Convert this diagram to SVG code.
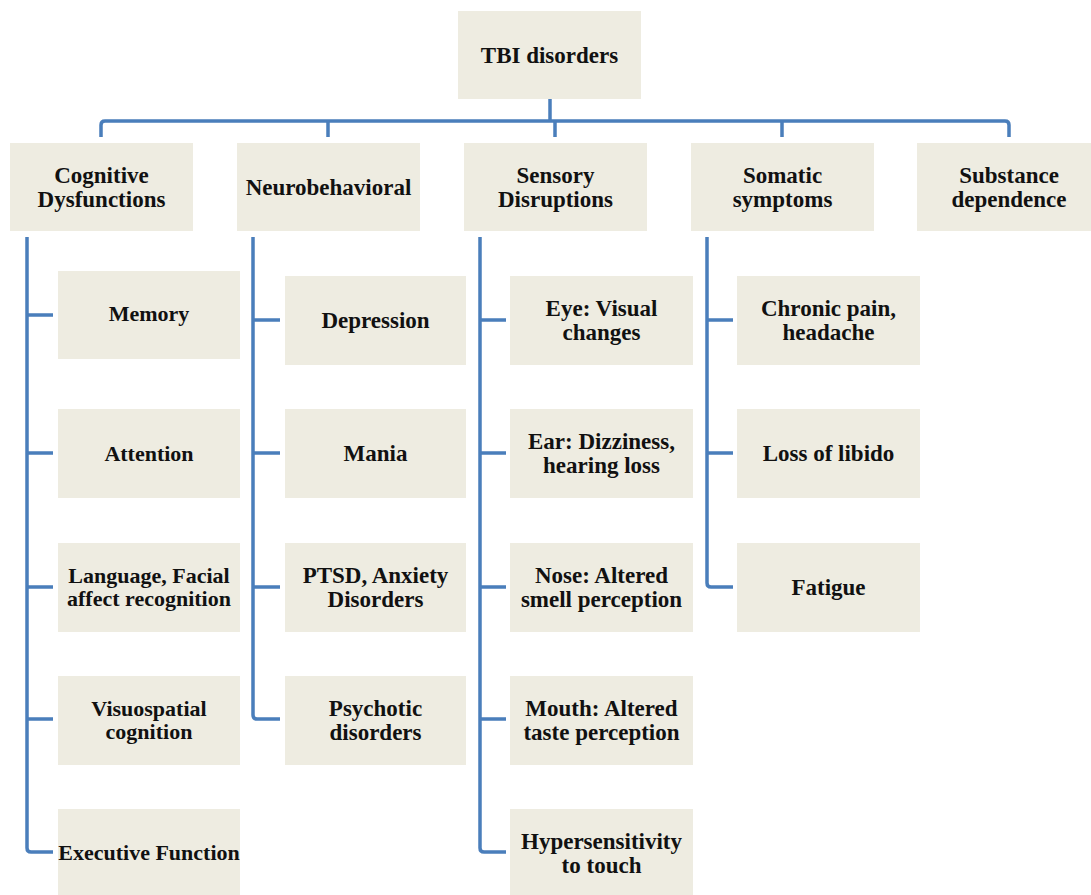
<svg xmlns="http://www.w3.org/2000/svg" width="1091" height="895" viewBox="0 0 1091 895">
<style>
.box{fill:#EEECE1;}
.t{font-family:"Liberation Serif","Times New Roman",serif;font-weight:bold;font-size:23px;fill:#111;text-anchor:middle;}
.s{font-size:22px;}
.c{fill:none;stroke:#4A7EBB;stroke-width:3.5;stroke-linejoin:round;}
</style>
<rect width="1091" height="895" fill="#fff"/>
<g id="connectors">
<path class="c" d="M550,99 V121"/>
<path class="c" d="M101,137 V125 Q101,121 105,121 H1005 Q1009,121 1009,125 V137"/>
<path class="c" d="M328,121 V137 M555,121 V137 M782,121 V137"/>
<path class="c" d="M27,237 V848 Q27,852 31,852 H53 M27,315 H53 M27,453 H53 M27,587 H53 M27,719 H53"/>
<path class="c" d="M253,237 V715 Q253,719 257,719 H280 M253,320 H280 M253,453 H280 M253,587 H280"/>
<path class="c" d="M480,237 V848 Q480,852 484,852 H506 M480,320 H506 M480,453 H506 M480,587 H506 M480,719 H506"/>
<path class="c" d="M707,237 V583 Q707,587 711,587 H733 M707,320 H733 M707,453 H733"/>
</g>
<g id="tbi"><rect class="box" x="458" y="11" width="183" height="88"/><text class="t" x="549.5" y="63">TBI disorders</text></g>
<g id="cognitive"><rect class="box" x="10" y="143" width="183" height="88"/><text class="t" x="101.5" y="183">Cognitive</text><text class="t" x="101.5" y="207">Dysfunctions</text></g>
<g id="neuro"><rect class="box" x="237" y="143" width="183" height="88"/><text class="t" x="328.5" y="195">Neurobehavioral</text></g>
<g id="sensory"><rect class="box" x="464" y="143" width="183" height="88"/><text class="t" x="555.5" y="183">Sensory</text><text class="t" x="555.5" y="207">Disruptions</text></g>
<g id="somatic"><rect class="box" x="691" y="143" width="183" height="88"/><text class="t" x="782.5" y="183">Somatic</text><text class="t" x="782.5" y="207">symptoms</text></g>
<g id="substance"><rect class="box" x="917" y="143" width="184" height="88"/><text class="t" x="1009" y="183">Substance</text><text class="t" x="1009" y="207">dependence</text></g>

<g id="memory"><rect class="box" x="58" y="271" width="182" height="88"/><text class="t s" x="149" y="321">Memory</text></g>
<g id="attention"><rect class="box" x="58" y="409" width="182" height="89"/><text class="t s" x="149" y="461">Attention</text></g>
<g id="language"><rect class="box" x="58" y="543" width="182" height="89"/><text class="t s" x="149" y="583">Language, Facial</text><text class="t s" x="149" y="606">affect recognition</text></g>
<g id="visuospatial"><rect class="box" x="58" y="676" width="182" height="89"/><text class="t s" x="149" y="716">Visuospatial</text><text class="t s" x="149" y="739">cognition</text></g>
<g id="executive"><rect class="box" x="58" y="809" width="182" height="90"/><text class="t s" x="149" y="860">Executive Function</text></g>

<g id="depression"><rect class="box" x="285" y="276" width="181" height="89"/><text class="t" x="375.5" y="328">Depression</text></g>
<g id="mania"><rect class="box" x="285" y="409" width="181" height="89"/><text class="t" x="375.5" y="461">Mania</text></g>
<g id="ptsd"><rect class="box" x="285" y="543" width="181" height="89"/><text class="t" x="375.5" y="583">PTSD, Anxiety</text><text class="t" x="375.5" y="607">Disorders</text></g>
<g id="psychotic"><rect class="box" x="285" y="676" width="181" height="89"/><text class="t" x="375.5" y="716">Psychotic</text><text class="t" x="375.5" y="740">disorders</text></g>

<g id="eye"><rect class="box" x="510" y="276" width="183" height="89"/><text class="t" x="601.5" y="316">Eye: Visual</text><text class="t" x="601.5" y="340">changes</text></g>
<g id="ear"><rect class="box" x="510" y="409" width="183" height="89"/><text class="t" x="601.5" y="449">Ear: Dizziness,</text><text class="t" x="601.5" y="473">hearing loss</text></g>
<g id="nose"><rect class="box" x="510" y="543" width="183" height="89"/><text class="t" x="601.5" y="583">Nose: Altered</text><text class="t" x="601.5" y="607">smell perception</text></g>
<g id="mouth"><rect class="box" x="510" y="676" width="183" height="89"/><text class="t" x="601.5" y="716">Mouth: Altered</text><text class="t" x="601.5" y="740">taste perception</text></g>
<g id="hyper"><rect class="box" x="510" y="809" width="183" height="90"/><text class="t" x="601.5" y="849">Hypersensitivity</text><text class="t" x="601.5" y="873">to touch</text></g>

<g id="pain"><rect class="box" x="737" y="276" width="183" height="89"/><text class="t" x="828.5" y="316">Chronic pain,</text><text class="t" x="828.5" y="340">headache</text></g>
<g id="libido"><rect class="box" x="737" y="409" width="183" height="89"/><text class="t" x="828.5" y="461">Loss of libido</text></g>
<g id="fatigue"><rect class="box" x="737" y="543" width="183" height="89"/><text class="t" x="828.5" y="595">Fatigue</text></g>
</svg>
